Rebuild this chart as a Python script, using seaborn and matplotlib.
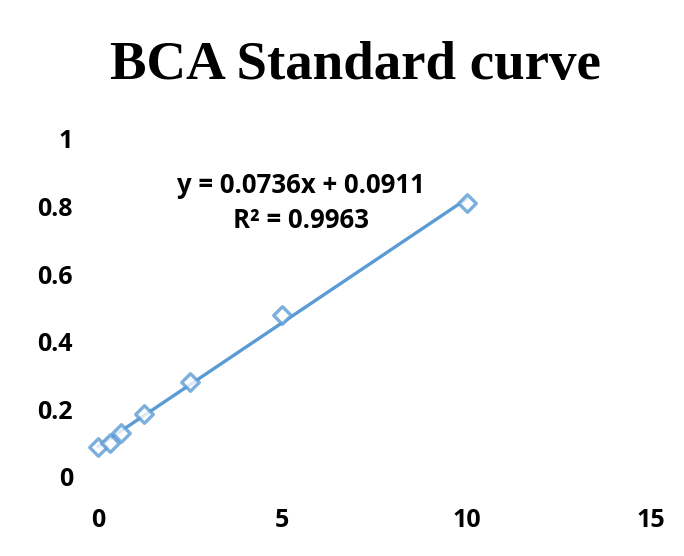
import numpy as np
import pandas as pd
import seaborn as sns
import matplotlib
matplotlib.use("Agg")
import matplotlib.pyplot as plt

conc = [0, 0.3125, 0.625, 1.25, 2.5, 5, 10]
absorb = [0.09, 0.10, 0.13, 0.185, 0.28, 0.48, 0.81]
xticks = [0, 5, 10, 15]
yticks = [0, 0.2, 0.4, 0.6, 0.8, 1]
title = "BCA Standard curve"
eq_text = "y = 0.0736x + 0.0911"
r2_text = "R² = 0.9963"

df = pd.DataFrame({"conc": conc, "abs": absorb})

sns.set_style("white")
plt.rcParams['font.family'] = ['Open Sans', 'DejaVu Sans']
plt.rcParams['text.color'] = 'black'
plt.rcParams['xtick.color'] = 'black'
plt.rcParams['ytick.color'] = 'black'

blue = "#5B9BD5"
fig = plt.figure(figsize=(6.84, 5.56), dpi=100)
ax = fig.add_axes([98/684, 1-477/556, (651-98)/684, (477-139)/556])

sns.regplot(data=df, x="conc", y="abs", ax=ax, ci=None, marker="D",
            scatter_kws=dict(s=80, facecolors="white", edgecolors=blue, linewidths=2.4,
                             zorder=3, clip_on=False),
            line_kws=dict(color=blue, lw=2.4, zorder=2, clip_on=False))

ax.set_xlim(0, 15)
ax.set_ylim(0, 1)
ax.set_xticks(xticks)
ax.set_yticks(yticks)
ax.set_xticklabels([str(v) for v in xticks], fontsize=18, fontweight="bold", color="black")
ax.set_yticklabels([f"{v:g}" for v in yticks], fontsize=18, fontweight="bold", color="black")
ax.tick_params(length=0)
ax.tick_params(axis="x", pad=22)
ax.tick_params(axis="y", pad=18)
for s in ax.spines.values():
    s.set_visible(False)
ax.set_xlabel("")
ax.set_ylabel("")
ax.grid(False)

fig.text(301/684, 1-186/556, eq_text, ha="center", va="center", fontsize=18.5,
         fontweight="bold", color="black")
fig.text(301/684, 1-221/556, r2_text, ha="center", va="center", fontsize=18.5,
         fontweight="bold", color="black")

fig.text(355/684, 1-66/556, title, ha="center", va="center", fontsize=39.5,
         fontweight="bold", color="black", family=["Liberation Serif", "DejaVu Serif"])

fig.savefig("out.png", dpi=100)
